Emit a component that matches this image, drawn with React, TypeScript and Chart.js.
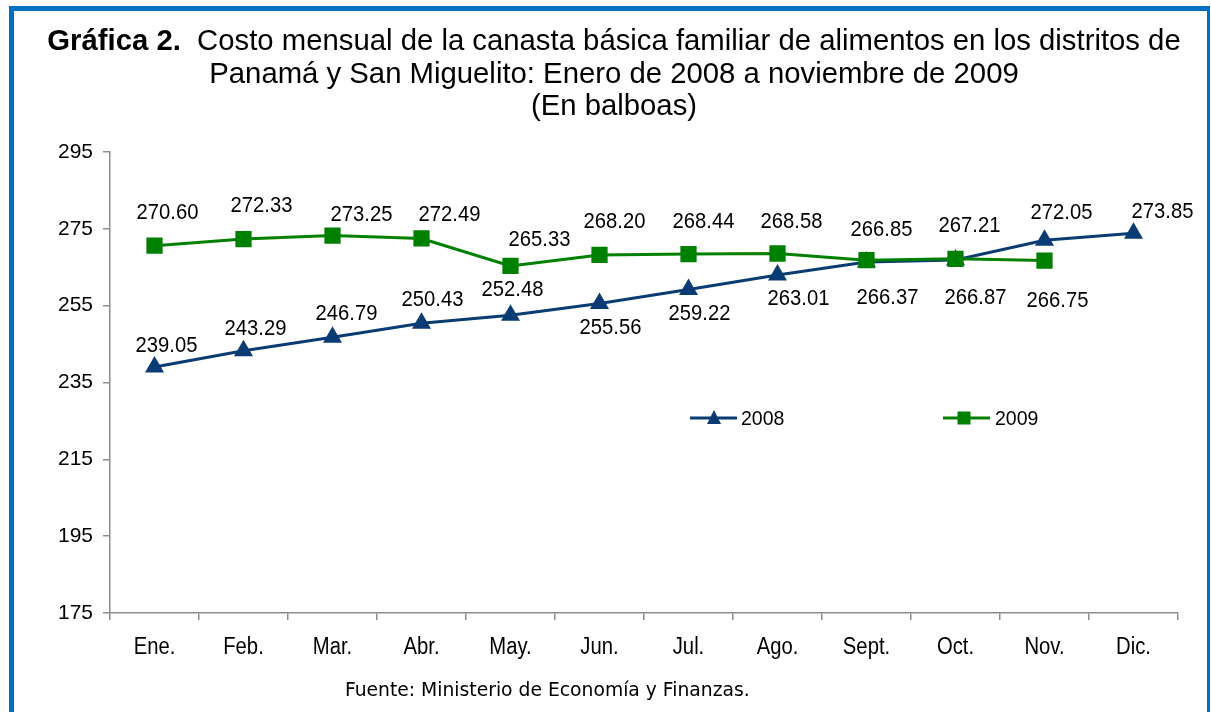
import React, { useEffect, useRef } from "react";
import { Chart, registerables } from "chart.js";

Chart.register(...registerables);

const months = ["Ene.", "Feb.", "Mar.", "Abr.", "May.", "Jun.", "Jul.", "Ago.", "Sept.", "Oct.", "Nov.", "Dic."];
const values2008 = [239.05, 243.29, 246.79, 250.43, 252.48, 255.56, 259.22, 263.01, 266.37, 266.87, 272.05, 273.85];
const values2009 = [270.6, 272.33, 273.25, 272.49, 265.33, 268.2, 268.44, 268.58, 266.85, 267.21, 266.75, null];
const yTicks = [175, 195, 215, 235, 255, 275, 295];

// label placement (pixel offsets relative to each marker) – styling only
const labelOffsets2008 = [
  [12, -21], [12, -22], [14, -23], [11, -23], [2, -25], [11, 24],
  [11, 24], [21, 24], [21, 36], [20, 38], [17, -27], [29, -21],
];
const labelOffsets2009 = [
  [13, -33], [18, -33], [29, -21], [28, -24], [29, -26], [15, -33],
  [15, -32], [14, -32], [15, -30], [14, -33], [13, 40], [0, 0],
];

const NAVY = "#0A3C73";
const GREEN = "#008000";
const AXIS = "#8C8C8C";
const FONT = "'Liberation Sans', Arial, sans-serif";

function squashText(ctx: any, text: string, x: number, y: number, size: number, sx: number, align: string) {
  ctx.save();
  ctx.translate(x, y);
  ctx.scale(sx, 1);
  ctx.font = `${size}px ${FONT}`;
  ctx.textAlign = align;
  ctx.textBaseline = "middle";
  ctx.fillText(text, 0, 0);
  ctx.restore();
}

const labelPlugin = {
  id: "valueLabels",
  afterDatasetsDraw(chart: any) {
    const ctx = chart.ctx;
    ctx.save();
    ctx.fillStyle = "#000";
    chart.data.datasets.forEach((ds: any, di: number) => {
      const meta = chart.getDatasetMeta(di);
      const offs = di === 0 ? labelOffsets2008 : labelOffsets2009;
      meta.data.forEach((el: any, i: number) => {
        const v = ds.data[i];
        if (v === null || v === undefined) return;
        const [dx, dy] = offs[i];
        squashText(ctx, v.toFixed(2), el.x + dx, el.y + dy, 22, 0.92, "center");
      });
    });
    ctx.restore();
  },
};

const xLabelPlugin = {
  id: "xLabels",
  afterDraw(chart: any) {
    const ctx = chart.ctx;
    const sx = chart.scales.x;
    ctx.save();
    ctx.fillStyle = "#000";
    (chart.data.labels as string[]).forEach((lab, i) => {
      squashText(ctx, lab, sx.getPixelForTick(i), sx.bottom - 64, 23, 0.88, "center");
    });
    ctx.restore();
  },
};

const legendPlugin = {
  id: "innerLegend",
  afterDraw(chart: any) {
    const ctx = chart.ctx;
    const a = chart.chartArea;
    const y = a.top + 266;
    ctx.save();
    ctx.lineWidth = 3;
    // 2008
    let x0 = a.left + 580;
    ctx.strokeStyle = NAVY;
    ctx.beginPath();
    ctx.moveTo(x0, y);
    ctx.lineTo(x0 + 47, y);
    ctx.stroke();
    ctx.fillStyle = NAVY;
    ctx.beginPath();
    const cx = x0 + 24;
    ctx.moveTo(cx, y - 8);
    ctx.lineTo(cx + 7, y + 6);
    ctx.lineTo(cx - 7, y + 6);
    ctx.closePath();
    ctx.fill();
    ctx.fillStyle = "#000";
    squashText(ctx, "2008", x0 + 51, y + 1, 21, 0.93, "left");
    // 2009
    x0 = a.left + 833;
    ctx.strokeStyle = GREEN;
    ctx.beginPath();
    ctx.moveTo(x0, y);
    ctx.lineTo(x0 + 47, y);
    ctx.stroke();
    ctx.fillStyle = GREEN;
    ctx.fillRect(x0 + 21 - 6.5, y - 6.5, 13, 13);
    ctx.fillStyle = "#000";
    squashText(ctx, "2009", x0 + 52, y + 1, 21, 0.93, "left");
    ctx.restore();
  },
};

export default function App() {
  const ref = useRef<HTMLCanvasElement>(null);

  useEffect(() => {
    const canvas = ref.current;
    if (!canvas) return;
    const chart = new Chart(canvas, {
      type: "line",
      data: {
        labels: months,
        datasets: [
          {
            label: "2008",
            data: values2008,
            borderColor: NAVY,
            backgroundColor: NAVY,
            borderWidth: 3,
            pointStyle: "triangle",
            pointRadius: 11,
            pointBorderWidth: 0,
            pointBackgroundColor: NAVY,
            tension: 0,
            order: 2,
          },
          {
            label: "2009",
            data: values2009,
            borderColor: GREEN,
            backgroundColor: GREEN,
            borderWidth: 3,
            pointStyle: "rect",
            pointRadius: 11.5,
            pointBorderWidth: 0,
            pointBackgroundColor: GREEN,
            tension: 0,
            spanGaps: false,
            order: 1,
          },
        ],
      },
      options: {
        responsive: false,
        animation: false,
        layout: { padding: { top: 152, right: 33, bottom: 0, left: 0 } },
        plugins: {
          legend: { display: false },
          title: { display: false },
          tooltip: { enabled: false },
        },
        scales: {
          x: {
            offset: true,
            grid: {
              offset: true,
              drawOnChartArea: false,
              drawTicks: true,
              tickLength: 7,
              color: AXIS,
              lineWidth: 1.5,
            },
            border: { color: AXIS, width: 1.5 },
            ticks: { display: false },
            afterFit: (s: any) => {
              s.height = 99;
            },
          },
          y: {
            min: 175,
            max: 295,
            afterBuildTicks: (s: any) => {
              s.ticks = yTicks.map((v) => ({ value: v }));
            },
            grid: {
              drawOnChartArea: false,
              drawTicks: true,
              tickLength: 7,
              color: AXIS,
              lineWidth: 1.5,
            },
            border: { color: AXIS, width: 1.5 },
            ticks: {
              color: "#000",
              font: { family: FONT, size: 21 },
              padding: 10,
            },
            afterFit: (s: any) => {
              s.width = 110;
            },
          },
        },
      },
      plugins: [labelPlugin, xLabelPlugin, legendPlugin],
    });
    return () => chart.destroy();
  }, []);

  return (
    <div
      style={{
        position: "fixed",
        left: 0,
        top: 0,
        width: 1211,
        height: 712,
        background: "#fff",
        overflow: "hidden",
      }}
    >
      <div
        style={{
          position: "absolute",
          left: 9,
          top: 6,
          width: 1201,
          height: 760,
          boxSizing: "border-box",
          borderLeft: "5px solid #0070C0",
          borderTop: "5px solid #0070C0",
          borderRight: "3px solid #0070C0",
        }}
      />
      <canvas ref={ref} width={1211} height={712} style={{ position: "absolute", left: 0, top: 0 }} />
      <div
        style={{
          position: "absolute",
          left: 16,
          top: 24,
          width: 1196,
          textAlign: "center",
          fontFamily: FONT,
          fontSize: 29.3,
          lineHeight: "32.5px",
          color: "#000",
        }}
      >
        <div>
          <b>Gráfica 2.</b>&nbsp; Costo mensual de la canasta básica familiar de alimentos en los distritos de
        </div>
        <div>Panamá y San Miguelito: Enero de 2008 a noviembre de 2009</div>
        <div>(En balboas)</div>
      </div>
      <div
        style={{
          position: "absolute",
          left: 236,
          top: 678,
          width: 600,
          textAlign: "center",
          fontFamily: "'DejaVu Sans', sans-serif",
          fontSize: 19.7,
          lineHeight: "24px",
          color: "#000",
          transform: "scaleX(0.952)",
          transformOrigin: "536px 0",
        }}
      >
        Fuente: Ministerio de Economía y Finanzas.
      </div>
    </div>
  );
}
